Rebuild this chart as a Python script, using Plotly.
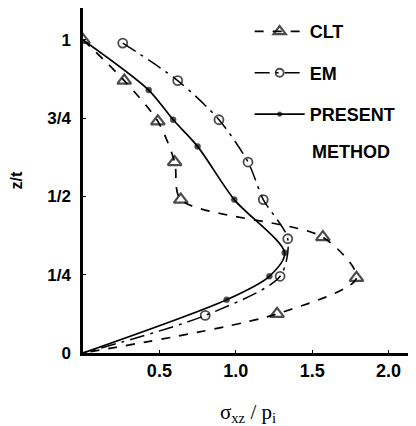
import plotly.graph_objects as go

# --- data (sigma_xz / p_i , z/t) ---
clt_x = [0.0, 0.27, 0.49, 0.60, 0.64, 1.57, 1.79, 1.27, 0.0]
clt_z = [1.0, 0.87, 0.74, 0.61, 0.49, 0.37, 0.24, 0.125, 0.0]

em_x = [0.26, 0.62, 0.89, 1.08, 1.18, 1.34, 1.29, 0.80, 0.0]
em_z = [0.99, 0.87, 0.745, 0.61, 0.49, 0.365, 0.245, 0.12, 0.0]

pm_x = [0.0, 0.43, 0.59, 0.75, 0.99, 1.32, 1.22, 0.94, 0.0]
pm_z = [1.0, 0.84, 0.745, 0.66, 0.49, 0.32, 0.245, 0.17, 0.0]

y_tickvals = [0, 0.25, 0.5, 0.75, 1.0]
y_ticktext = ["0", "1/4", "1/2", "3/4", "1"]
x_tickvals = [0.5, 1.0, 1.5, 2.0]
x_ticktext = ["0.5", "1.0", "1.5", "2.0"]


def sizes(n, s, skip):
    return [0 if i in skip else s for i in range(n)]


fig = go.Figure()
fig.add_trace(go.Scatter(
    x=clt_x, y=clt_z, mode="lines+markers", name="CLT",
    line=dict(color="black", width=1.7, dash="dash", shape="spline", smoothing=0.8),
    marker=dict(symbol="triangle-up-open", size=sizes(len(clt_x), 12, {len(clt_x) - 1}),
                color="black", line=dict(width=2.2, color="black")),
    legendgroup="a",
))
fig.add_trace(go.Scatter(
    x=em_x, y=em_z, mode="lines+markers", name="EM",
    line=dict(color="black", width=1.5, dash="longdashdot", shape="spline", smoothing=0.8),
    marker=dict(symbol="circle-open", size=sizes(len(em_x), 9, {len(em_x) - 1}),
                color="black", line=dict(width=1.8, color="black")),
    legendgroup="b",
))
fig.add_trace(go.Scatter(
    x=pm_x, y=pm_z, mode="lines+markers", name="PRESENT",
    line=dict(color="black", width=1.7, shape="spline", smoothing=0.8),
    marker=dict(symbol="circle", size=sizes(len(pm_x), 6, {0, len(pm_x) - 1}),
                color="black", line=dict(width=0.5, color="black")),
    legendgroup="c",
))

# the page has an 8px body margin: margins below are shifted to compensate
fig.update_layout(
    width=416, height=426,
    margin=dict(l=75, r=11, t=0, b=81, autoexpand=False),
    plot_bgcolor="white", paper_bgcolor="white",
    font=dict(family="Liberation Sans, Arial, sans-serif", size=17, color="black", weight="bold"),
    showlegend=True,
    legend=dict(x=0.505, y=0.985, xanchor="left", yanchor="top",
                bgcolor="rgba(0,0,0,0)", itemwidth=50, tracegroupgap=15,
                font=dict(size=18, weight="bold"), traceorder="grouped"),
    annotations=[dict(text="METHOD", xref="paper", yref="paper", x=0.688, y=0.583,
                      xanchor="left", yanchor="middle", showarrow=False,
                      font=dict(size=18, weight="bold"))],
    xaxis=dict(range=[0, 2.16], showgrid=False, zeroline=False, showline=True, automargin=False,
               linecolor="black", linewidth=2.5, tickvals=x_tickvals, ticktext=x_ticktext,
               ticks="inside", ticklen=3, tickcolor="black", tickfont=dict(size=18),
               title=dict(text="σ<sub>xz</sub> / p<sub>i</sub>",
                          font=dict(family="Liberation Serif, serif", size=21, weight="normal"),
                          standoff=24)),
    yaxis=dict(range=[0, 1.102], showgrid=False, zeroline=False, showline=True, automargin=False,
               linecolor="black", linewidth=2.5, tickvals=y_tickvals, ticktext=y_ticktext,
               ticks="inside", ticklen=3, tickcolor="black", ticklabelstandoff=6,
               tickfont=dict(size=17),
               title=dict(text="z/t", font=dict(size=16, weight="bold"), standoff=30)),
)

fig.write_html("out.html")
